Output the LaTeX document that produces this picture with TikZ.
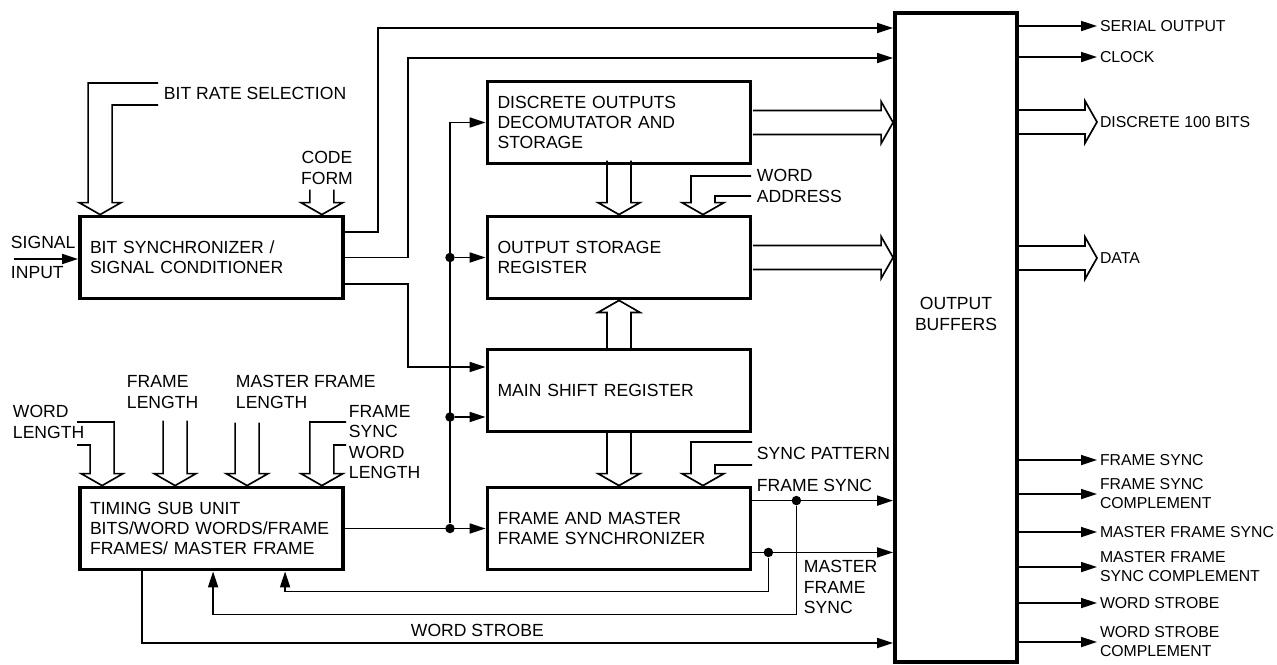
\documentclass[tikz,border=0pt]{standalone}
\usepackage{fontspec}
\setmainfont{Liberation Sans}
\usetikzlibrary{arrows.meta,calc,positioning}

\tikzset{
  blk/.style={draw, line width=2.2pt, align=left, text width=4.86cm, inner xsep=0.2cm,
    minimum width=5.26cm, minimum height=1.64cm},
  wire/.style={line width=0.95pt},
  sig/.style={wire, -{Triangle[length=3.2mm,width=2mm]}},
  bus/.style={line width=0.95pt, line join=miter},
  tap/.style={circle, fill, inner sep=0pt, minimum size=5.4pt},
  lbl/.style={inner sep=1.5pt, align=left},
  outlbl/.style={lbl, anchor=west, font=\fontsize{9}{10.8}\selectfont},
}

% hollow (bus) arrows: tip point, then lead lengths / ends
\newcommand{\busdown}[2]{%
  \draw[bus] ($(#1)+(-12,-#2)$) -- ($(#1)+(-12,-12)$) -- ++(-9,0) -- (#1) -- ++(21,-12) -- ++(-9,0) -- ($(#1)+(12,-#2)$);}
\newcommand{\busup}[2]{%
  \draw[bus] ($(#1)+(-12,#2)$) -- ($(#1)+(-12,12)$) -- ++(-9,0) -- (#1) -- ++(21,12) -- ++(-9,0) -- ($(#1)+(12,#2)$);}
\newcommand{\busright}[4]{%
  \draw[bus] (#4,#2) -| ($(#1)+(-12,-12)$) -- ++(-9,0) -- (#1) -- ++(21,-12) -- ++(-9,0) |- (#4,#3);}
\newcommand{\busleft}[4]{%
  \draw[bus] (#4,#2) -| ($(#1)+(12,-12)$) -- ++(9,0) -- (#1) -- ++(-21,-12) -- ++(9,0) |- (#4,#3);}
\newcommand{\busout}[2]{%
  \draw[bus] ($(#1)+(-#2,-12)$) -- ($(#1)+(-12,-12)$) -- ++(0,-9) -- (#1) -- ++(-12,21) -- ++(0,-9) -- ($(#1)+(-#2,12)$);}

\begin{document}
\begin{tikzpicture}[x=0.02cm, y=-0.02cm, font=\fontsize{10}{11.6}\selectfont]
  \useasboundingbox (0,0) rectangle (1277,664);
  % --- blocks
  \node[blk] (bs) at (211.5,257.5) {BIT SYNCHRONIZER /\\SIGNAL CONDITIONER};
  \node[blk] (tsu) at (211.5,528.5) {TIMING SUB UNIT\\BITS/WORD WORDS/FRAME\\FRAMES/ MASTER FRAME};
  \node[blk] (do) at (619,122.5) {DISCRETE OUTPUTS\\DECOMUTATOR AND\\STORAGE};
  \node[blk] (osr) at (619,257.5) {OUTPUT STORAGE\\REGISTER};
  \node[blk] (msr) at (619,390.5) {MAIN SHIFT REGISTER};
  \node[blk] (fms) at (619,528.5) {FRAME AND MASTER\\FRAME SYNCHRONIZER};
  \node[draw, line width=2.2pt, minimum width=2.44cm, minimum height=12.98cm, inner sep=0pt] (ob) at (956,337.5) {};
  \node[align=center] (obtxt) at (956,314) {OUTPUT\\BUFFERS};

  % --- inputs of the bit synchronizer
  \node[lbl, anchor=west] (sigl) at (8,242) {SIGNAL};
  \node[lbl, anchor=west] (inpl) at (8,273) {INPUT};
  \coordinate (sigin) at (14,259);
  \draw[sig] (sigin) -- (sigin -| bs.west);
  \node[lbl, anchor=west] (brs) at (161,93) {BIT RATE SELECTION};
  \coordinate (brtip) at ($(bs.north west)+(22,0)$);
  \busright{brtip}{83}{105}{158}
  \node[lbl, align=center] (cf) at (327,168) {CODE\\FORM};
  \coordinate (cftip) at ($(bs.north east)+(-23,0)$);
  \busdown{cftip}{25}

  % --- bit synchronizer outputs
  \draw[sig] (bs.east |- 0,232) -| (378,28) -- (ob.west |- 0,28);
  \draw[sig] (bs.east) -| (408,58) -- (ob.west |- 0,58);
  \draw[sig] (bs.east |- 0,284) -| (408,367) -- (msr.west |- 0,367);

  % --- register stack
  \busdown{osr.north}{54}
  \node[lbl, anchor=west] (wa) at (754,186) {WORD\\ADDRESS};
  \coordinate (watip) at ($(osr.north)+(84,0)$);
  \busright{watip}{176}{196}{751}
  \busup{osr.south}{50}
  \busdown{fms.north}{53}
  \node[lbl, anchor=west] (sp) at (754,453) {SYNC PATTERN};
  \coordinate (sptip) at ($(fms.north)+(84,0)$);
  \busright{sptip}{442}{465}{752}
  \coordinate (dotip) at (do.east -| ob.west);
  \busout{dotip}{140}
  \coordinate (osrtip) at (osr.east -| ob.west);
  \busout{osrtip}{140}

  % --- timing sub unit inputs
  \node[lbl, anchor=west] (wl) at (10,422) {WORD\\LENGTH};
  \coordinate (wltip) at ($(tsu.north west)+(24,0)$);
  \busleft{wltip}{422}{445}{77}
  \node[lbl, anchor=west] (fl) at (124,392) {FRAME\\LENGTH};
  \coordinate (fltip) at ($(tsu.north west)+(97,0)$);
  \busdown{fltip}{65}
  \node[lbl, anchor=west] (mfl) at (233,392) {MASTER FRAME\\LENGTH};
  \coordinate (mfltip) at ($(tsu.north west)+(169,0)$);
  \busdown{mfltip}{63}
  \node[lbl, anchor=west] (fswl) at (346,442) {FRAME\\SYNC\\WORD\\LENGTH};
  \coordinate (fswltip) at ($(tsu.north east)+(-23,0)$);
  \busright{fswltip}{422}{445}{346}

  % --- timing bus
  \node[tap] (t1) at (tsu.east -| 450,0) {};
  \node[tap] (t2) at (osr.west -| 450,0) {};
  \node[tap] (t3) at (450,417) {};
  \draw[sig] (tsu.east) -- (fms.west);
  \draw[sig] (t1) |- (do.west);
  \draw[sig] (t2) -- (osr.west);
  \draw[sig] (t3) -- (t3 -| msr.west);

  % --- synchronizer outputs and feedback
  \node[lbl, anchor=west] (fsl) at (754,485) {FRAME SYNC};
  \coordinate (fsout) at ($(fms.north east)+(0,15)$);
  \node[tap] (fsdot) at ($(fsout)+(44,0)$) {};
  \draw[sig] (fsout) -- (fsout -| ob.west);
  \coordinate (mfsout) at ($(fms.south east)+(0,-19)$);
  \node[tap] (mfsdot) at ($(mfsout)+(16,0)$) {};
  \draw[sig] (mfsout) -- (mfsout -| ob.west);
  \draw[sig] (mfsdot) |- ($(tsu.south west)+(207,20)$) -- ($(tsu.south west)+(207,0)$);
  \draw[sig] (fsdot) |- ($(tsu.south west)+(135,43)$) -- ($(tsu.south west)+(135,0)$);
  \node[lbl, anchor=west] (mfsl) at (801,587) {MASTER\\FRAME\\SYNC};
  \draw[sig] ($(tsu.south west)+(64,0)$) |- (ob.west |- 0,643);
  \node[lbl, anchor=west] (wsl) at (408,630) {WORD STROBE};

  % --- output buffer outputs
  \node[outlbl] (disc) at (1097,122) {DISCRETE 100 BITS};
  \busout{disc.west}{78}
  \node[outlbl] (data) at (1097,258) {DATA};
  \busout{data.west}{78}
  \foreach \y/\t [count=\i] in {26/SERIAL OUTPUT, 57/CLOCK, 460/FRAME SYNC,
      494/{FRAME SYNC\\COMPLEMENT}, 532/MASTER FRAME SYNC, 567/{MASTER FRAME\\SYNC COMPLEMENT},
      603/WORD STROBE, 642/{WORD STROBE\\COMPLEMENT}} {
    \node[outlbl] (out\i) at (1097,\y) {\t};
    \draw[sig] (ob.east |- out\i.west) -- (out\i.west);
  }
\end{tikzpicture}
\end{document}
